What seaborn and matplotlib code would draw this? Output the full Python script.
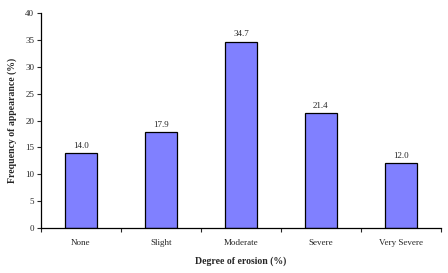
import matplotlib
matplotlib.use("Agg")
import matplotlib.pyplot as plt
import seaborn as sns
import pandas as pd

categories = ["None", "Slight", "Moderate", "Severe", "Very Severe"]
values = [14.0, 17.9, 34.7, 21.4, 12.0]
yticks = [0, 5, 10, 15, 20, 25, 30, 35, 40]

sns.set_style("white")
plt.rcParams['font.family'] = ['Liberation Serif', 'DejaVu Serif']

df = pd.DataFrame({"cat": categories, "val": values})
fig = plt.figure(figsize=(4.48, 2.73), dpi=100)
ax = fig.add_axes([0.0915, 0.165, 0.8925, 0.787])
sns.barplot(data=df, x="cat", y="val", color="#8080FF", saturation=1, width=0.4,
            edgecolor="black", linewidth=0.9, ax=ax)
for i, v in enumerate(values):
    ax.text(i, v + 0.6, f"{v:.1f}", ha="center", va="bottom", fontsize=6.5)
ax.set_xlim(-0.5, 4.5)
ax.set_ylim(0, 40)
ax.set_yticks(yticks)
ax.set_yticklabels([str(t) for t in yticks], fontsize=6.5)
ax.set_xticks(range(len(categories)))
ax.set_xticklabels(categories, fontsize=6.5)
ax.set_xticks([i - 0.5 for i in range(len(categories) + 1)], minor=True)
ax.tick_params(axis="x", which="major", length=0, pad=8)
ax.tick_params(axis="x", which="minor", length=3, width=0.8, direction="out", bottom=True)
ax.tick_params(axis="y", length=3, width=0.8, direction="out", left=True, pad=2)
for s in ["top", "right"]:
    ax.spines[s].set_visible(False)
for s in ["left", "bottom"]:
    ax.spines[s].set_color("black")
    ax.spines[s].set_linewidth(0.9)
ax.set_xlabel("Degree of erosion (%)", fontsize=7, fontweight="bold", labelpad=7)
ax.set_ylabel("Frequency of appearance (%)", fontsize=7, fontweight="bold", labelpad=6)
fig.savefig("out.png", dpi=100)
